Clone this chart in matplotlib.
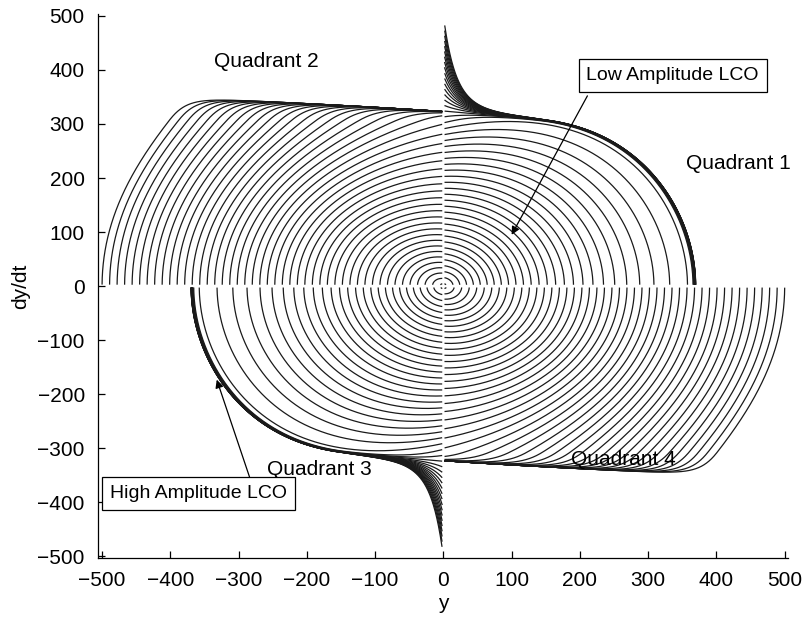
import numpy as np
import matplotlib
matplotlib.use("Agg")
import matplotlib.pyplot as plt

plt.rcParams["font.family"] = ["Liberation Sans", "DejaVu Sans"]

# Starting displacements (velocity = 0) for the quadrant 2 family
q2_start_y = [-500, -489, -478, -467, -456, -445, -434, -423, -412, -401,
              -390, -379, -368, -357, -346, -335, -324, -313, -302, -291,
              -280, -269, -258, -247, -236, -225, -214, -203, -192, -181,
              -170, -159, -148, -137, -126, -115, -104, -93, -82, -71,
              -60, -49, -38, -27, -16, -5]
# Starting velocities (displacement = 0) for the quadrant 1 family
q1_start_v = [500, 489, 478, 467, 456, 445, 434, 423, 412, 401,
              390, 379, 368, 357, 346, 335, 324, 313, 302, 291,
              280, 269, 258, 247, 236, 225, 214, 203, 192, 181,
              170, 159, 148, 137, 126, 115, 104, 93, 82, 71,
              60, 49, 38, 27, 16, 5]
# The oscillator is odd-symmetric, so quadrants 4 and 3 mirror 2 and 1
q4_start_y = [-y for y in q2_start_y]
q3_start_v = [-v for v in q1_start_v]

# Oscillator: y'' + c(y') + y = 0
A_LIN = 0.15                            # linear damping near rest
B_CUB = 4 * A_LIN / (3 * 200.0 ** 2)    # cubic term -> unstable cycle near r = 200
V_WALL = 305.0                          # speed where damping rises sharply
K_WALL = 1.95
P_WALL = 1.5


def damping(v):
    over = np.clip(np.abs(v) - V_WALL, 0.0, None)
    return A_LIN * v - B_CUB * v ** 3 + K_WALL * np.sign(v) * over ** P_WALL


def integrate(y0, v0, dt=0.0008, steps=5000):
    y = np.array(y0, dtype=float)
    v = np.array(v0, dtype=float)
    Y = np.empty((steps + 1, y.size))
    V = np.empty((steps + 1, y.size))
    Y[0], V[0] = y, v
    for i in range(steps):
        k1y, k1v = v, -y - damping(v)
        k2y, k2v = v + 0.5 * dt * k1v, -(y + 0.5 * dt * k1y) - damping(v + 0.5 * dt * k1v)
        k3y, k3v = v + 0.5 * dt * k2v, -(y + 0.5 * dt * k2y) - damping(v + 0.5 * dt * k2v)
        k4y, k4v = v + dt * k3v, -(y + dt * k3y) - damping(v + dt * k3v)
        y = y + dt / 6 * (k1y + 2 * k2y + 2 * k3y + k4y)
        v = v + dt / 6 * (k1v + 2 * k2v + 2 * k3v + k4v)
        Y[i + 1], V[i + 1] = y, v
    return Y, V


def quadrant_paths(Y, V, sy, sv, gap_y=1.6, gap_v=2.5):
    """Cut each trajectory where it first leaves the quadrant (signs sy, sv)."""
    paths = []
    for j in range(Y.shape[1]):
        y, v = Y[:, j], V[:, j]
        inside = (sy * y >= -1e-9) & (sv * v >= -1e-9)
        out = np.where(~inside)[0]
        end = out[0] if out.size else len(y)
        y, v = y[:end], v[:end]
        keep = (sy * y > gap_y) & (sv * v > gap_v)
        paths.append((y[keep], v[keep]))
    return paths


fig = plt.figure(figsize=(8.05, 6.19), dpi=100)
ax = fig.add_axes([0.1217, 0.0985, 0.8573, 0.8785])

families = [
    (q2_start_y, [0.0] * len(q2_start_y), -1, 1),
    ([0.0] * len(q1_start_v), q1_start_v, 1, 1),
    (q4_start_y, [0.0] * len(q4_start_y), 1, -1),
    ([0.0] * len(q3_start_v), q3_start_v, -1, -1),
]
for y0, v0, sy, sv in families:
    Y, V = integrate(y0, v0)
    for yy, vv in quadrant_paths(Y, V, sy, sv):
        ax.plot(yy, vv, color="#1a1a1a", lw=0.9, solid_capstyle="butt")

ax.set_xlim(-506, 505)
ax.set_ylim(-503, 503)
ax.set_xticks(np.arange(-500, 501, 100))
ax.set_yticks(np.arange(-500, 501, 100))
ax.tick_params(direction="in", length=5, width=0.9, labelsize=15, pad=9.5)
for side in ("top", "right"):
    ax.spines[side].set_visible(False)
for side in ("left", "bottom"):
    ax.spines[side].set_linewidth(0.9)
ax.set_xlabel("y", fontsize=15, labelpad=3)
ax.set_ylabel("dy/dt", fontsize=15, labelpad=5)

for x, yv, s in [(-259, 415, "Quadrant 2"), (432, 227, "Quadrant 1"),
                 (-182, -340, "Quadrant 3"), (264, -320, "Quadrant 4")]:
    ax.text(x, yv, s, fontsize=15, ha="center", va="center")

box = dict(boxstyle="square,pad=0.4", fc="white", ec="black", lw=0.9)
ax.text(336, 390, "Low Amplitude LCO", fontsize=14, ha="center", va="center", bbox=box)
ax.text(-359, -384, "High Amplitude LCO", fontsize=14, ha="center", va="center", bbox=box)

arrow = dict(arrowstyle="-|>", color="black", lw=0.9, mutation_scale=12, shrinkA=0, shrinkB=0)
ax.annotate("", xy=(100, 95), xytext=(211, 352), arrowprops=arrow)
ax.annotate("", xy=(-332, -173), xytext=(-284, -353), arrowprops=arrow)

fig.savefig("out.png", dpi=100)
